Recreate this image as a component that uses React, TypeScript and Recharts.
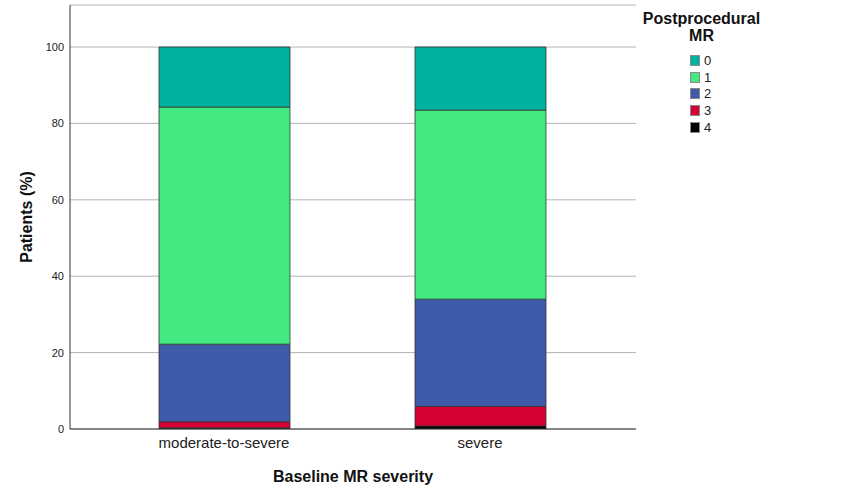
import React from 'react';
import { BarChart, Bar, XAxis, YAxis, CartesianGrid } from 'recharts';

const categories = ['moderate-to-severe', 'severe'];
const mr4 = [0.3, 0.8];
const mr3 = [1.6, 5.1];
const mr2 = [20.3, 28.1];
const mr1 = [62.1, 49.5];
const mr0 = [15.7, 16.5];
const yTicks = [0, 20, 40, 60, 80, 100];

const seriesKeys = ['0', '1', '2', '3', '4'];
const seriesColors: Record<string, string> = {
  '0': '#00B3A1',
  '1': '#42EA7F',
  '2': '#3E5BA9',
  '3': '#D60032',
  '4': '#000000',
};

const data = categories.map((c, i) => ({
  cat: c,
  '4': mr4[i],
  '3': mr3[i],
  '2': mr2[i],
  '1': mr1[i],
  '0': mr0[i],
}));

const FONT = '"Liberation Sans", Arial, sans-serif';

const LegendBox = () => (
  <div style={{ position: 'absolute', top: 10, left: 641, width: 121, fontFamily: FONT, color: '#111' }}>
    <div style={{ fontWeight: 'bold', fontSize: 16, lineHeight: '17px', textAlign: 'center', width: 121 }}>
      Postprocedural
      <br />
      MR
    </div>
    <div style={{ position: 'absolute', top: 42, left: 49 }}>
      {seriesKeys.map((k) => (
        <div key={k} style={{ display: 'flex', alignItems: 'center', height: 16.8 }}>
          <span
            style={{
              display: 'inline-block',
              width: 10,
              height: 11,
              background: seriesColors[k],
              border: '1px solid #8a8a8a',
              boxSizing: 'border-box',
              marginRight: 4,
            }}
          />
          <span style={{ fontSize: 13, color: '#222' }}>{k}</span>
        </div>
      ))}
    </div>
  </div>
);

const YLabel = (props: any) => {
  const vb = props.viewBox || {};
  const cx = 26;
  const cy = vb.y + vb.height / 2;
  return (
    <text
      x={cx}
      y={cy}
      transform={`rotate(-90, ${cx}, ${cy})`}
      textAnchor="middle"
      dominantBaseline="central"
      fontFamily={FONT}
      fontWeight="bold"
      fontSize={16}
      fill="#111"
    >
      Patients (%)
    </text>
  );
};

const XLabel = (props: any) => {
  const vb = props.viewBox || {};
  const cx = vb.x + vb.width / 2;
  return (
    <text
      x={cx}
      y={482}
      textAnchor="middle"
      fontFamily={FONT}
      fontWeight="bold"
      fontSize={16}
      fill="#111"
    >
      Baseline MR severity
    </text>
  );
};

export default function App() {
  return (
    <div style={{ position: 'absolute', top: 0, left: 0, width: 848, height: 498, background: '#fff' }}>
      <BarChart
        width={848}
        height={498}
        data={data}
        margin={{ top: 5, right: 212, bottom: 29, left: 8 }}
      >
        <CartesianGrid horizontal vertical={false} stroke="#b4b4b4" strokeWidth={1} />
        <XAxis
          dataKey="cat"
          height={40}
          padding={{ left: 26, right: 28 }}
          tickLine={false}
          tickSize={5}
          tickMargin={3}
          axisLine={{ stroke: '#333', strokeWidth: 1 }}
          tick={{ fontFamily: FONT, fontSize: 15, fill: '#222' }}
          label={<XLabel />}
        />
        <YAxis
          width={62}
          domain={[0, 111]}
          ticks={yTicks}
          tickLine={false}
          tickSize={4}
          tickMargin={2}
          axisLine={{ stroke: '#333', strokeWidth: 1 }}
          tick={{ fontFamily: FONT, fontSize: 11, fill: '#222' }}
          label={<YLabel />}
          allowDataOverflow
        />
        {['4', '3', '2', '1', '0'].map((k) => (
          <Bar
            key={k}
            dataKey={k}
            stackId="a"
            barSize={131}
            fill={seriesColors[k]}
            stroke="#333"
            strokeWidth={0.8}
            isAnimationActive={false}
          />
        ))}
      </BarChart>
      <LegendBox />
    </div>
  );
}
